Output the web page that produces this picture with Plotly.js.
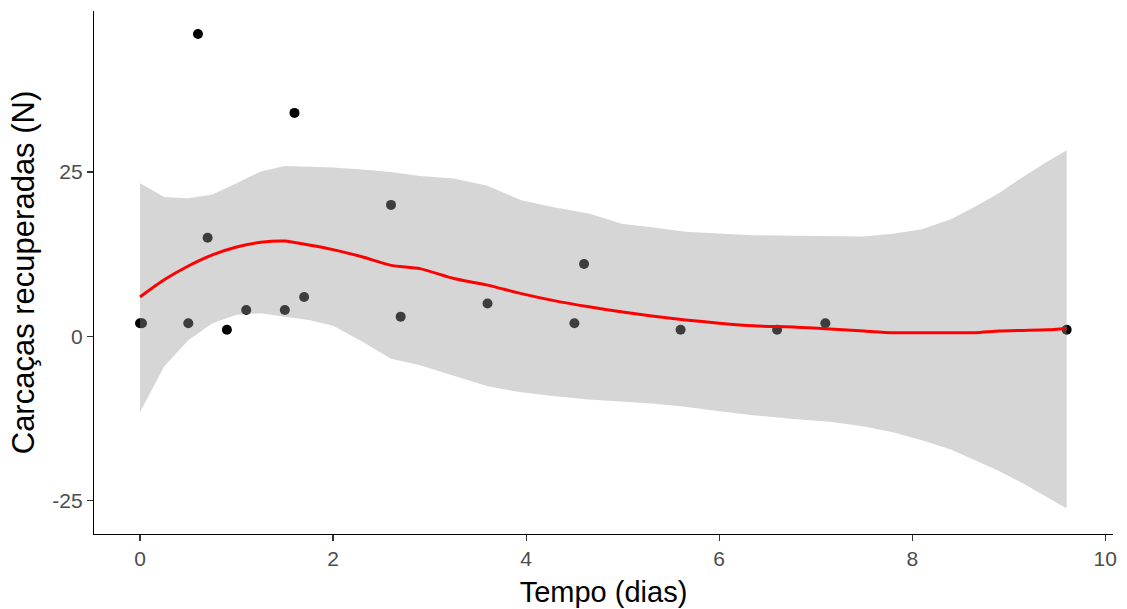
<!DOCTYPE html>
<html>
<head>
<meta charset="utf-8">
<script src="https://cdn.plot.ly/plotly-3.0.1.min.js"></script>
<style>html,body{margin:0;padding:0;background:#fff;}#chart{width:1127px;height:609px;}</style>
</head>
<body>
<div id="chart"></div>
<script>
// Observed points
const tempo = [0, 0.02, 0.5, 0.6, 0.7, 0.9, 1.1, 1.5, 1.6, 1.7, 2.6, 2.7, 3.6, 4.5, 4.6, 5.6, 6.6, 7.1, 9.6];
const carcacas = [2, 2, 2, 46, 15, 1, 4, 4, 34, 6, 20, 3, 5, 2, 11, 1, 1, 2, 1];

// Smooth (loess) fit and its confidence band
const fitX = [0, 0.25, 0.5, 0.75, 1.0, 1.25, 1.5, 1.75, 2.0, 2.3, 2.6, 2.9, 3.25, 3.6, 3.95, 4.3, 4.65, 5.0, 5.3, 5.65, 6.0, 6.35, 6.8, 7.15, 7.5, 7.8, 8.1, 8.4, 8.65, 8.9, 9.15, 9.4, 9.6];
const fitY = [6.0, 8.6, 10.7, 12.4, 13.6, 14.3, 14.5, 13.9, 13.2, 12.1, 10.8, 10.3, 8.8, 7.8, 6.5, 5.4, 4.5, 3.7, 3.1, 2.5, 2.0, 1.6, 1.4, 1.1, 0.8, 0.55, 0.55, 0.55, 0.55, 0.8, 0.9, 1.0, 1.2];
const fitUpper = [23.3, 21.2, 21.0, 21.6, 23.3, 25.1, 25.9, 25.8, 25.7, 25.4, 25.0, 24.4, 24.0, 22.9, 20.7, 19.6, 18.7, 17.1, 16.6, 15.9, 15.6, 15.4, 15.3, 15.2, 15.2, 15.6, 16.3, 17.8, 19.7, 21.8, 24.3, 26.6, 28.3];
const fitLower = [-11.5, -4.6, -0.6, 2.0, 3.3, 3.5, 3.0, 2.5, 1.6, -0.8, -3.4, -4.4, -6.0, -7.6, -8.5, -9.1, -9.6, -9.9, -10.2, -10.7, -11.4, -12.0, -12.6, -13.0, -13.7, -14.6, -15.8, -17.2, -18.8, -20.5, -22.4, -24.5, -26.2];

const xTicks = [0, 2, 4, 6, 8, 10];
const yTicks = [-25, 0, 25];

const FONT = '"Liberation Sans", Arial, sans-serif';

const bandX = fitX.concat(fitX.slice().reverse());
const bandY = fitUpper.concat(fitLower.slice().reverse());

const traces = [
  {
    type: 'scatter', mode: 'markers', x: tempo, y: carcacas,
    marker: {color: '#000000', size: 10}, hoverinfo: 'x+y', showlegend: false
  },
  {
    type: 'scatter', mode: 'lines', x: bandX, y: bandY, fill: 'toself',
    fillcolor: 'rgba(153,153,153,0.4)', line: {width: 0, color: 'rgba(0,0,0,0)'},
    hoverinfo: 'skip', showlegend: false
  },
  {
    type: 'scatter', mode: 'lines', x: fitX, y: fitY,
    line: {color: '#ff0000', width: 3, shape: 'spline', smoothing: 0.6}, showlegend: false
  }
];

const layout = {
  width: 1127, height: 609,
  margin: {l: 94, r: 14, t: 11, b: 75},
  paper_bgcolor: '#ffffff', plot_bgcolor: '#ffffff',
  font: {family: FONT, color: '#000000'},
  showlegend: false,
  xaxis: {
    range: [-0.477, 10.08], tickvals: xTicks, ticktext: xTicks.map(String),
    showgrid: false, zeroline: false, showline: true, linecolor: '#000000', linewidth: 1.2,
    ticks: 'outside', ticklen: 6, tickwidth: 1.2, tickcolor: '#333333',
    tickfont: {family: FONT, size: 21, color: '#4d4d4d'},
    title: {text: 'Tempo (dias)', font: {family: FONT, size: 29, color: '#000000'}, standoff: 12},
    automargin: false
  },
  yaxis: {
    range: [-30.07, 49.5], tickvals: yTicks, ticktext: yTicks.map(String),
    showgrid: false, zeroline: false, showline: true, linecolor: '#000000', linewidth: 1.2,
    ticks: 'outside', ticklen: 6, tickwidth: 1.2, tickcolor: '#333333',
    tickfont: {family: FONT, size: 21, color: '#4d4d4d'},
    title: {text: 'Carcaças recuperadas (N)', font: {family: FONT, size: 31, color: '#000000'}, standoff: 8},
    automargin: false
  }
};

Plotly.newPlot('chart', traces, layout, {displayModeBar: false, staticPlot: true});
</script>
</body>
</html>
